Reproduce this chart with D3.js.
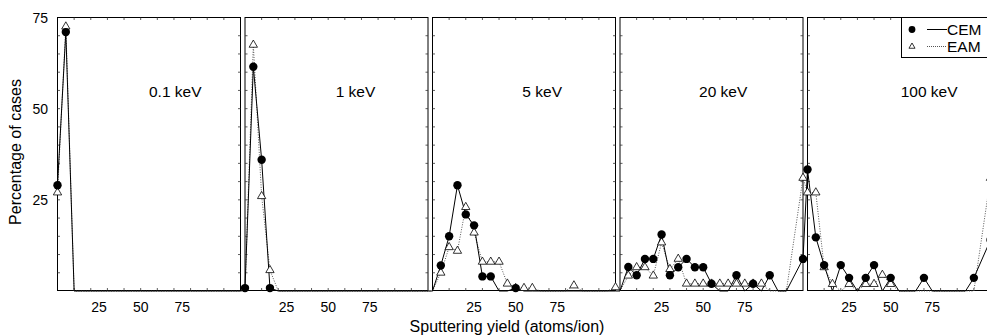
<!DOCTYPE html>
<html lang="en">
<head>
<meta charset="UTF-8" />
<title>Sputtering yield distributions</title>
<script src="https://cdnjs.cloudflare.com/ajax/libs/d3/7.8.5/d3.min.js"></script>
<style>
    body { margin: 0; background: #fff; }
    svg { display: block; font-family: "Liberation Sans", Arial, Helvetica, sans-serif; }
</style>
</head>
<body>
<svg id="chart" width="987" height="336"></svg>
<script>
    // one panel per ion energy, bins every 5 atoms/ion (null = no point)
    const energies = ["0.1 keV", "1 keV", "5 keV", "20 keV", "100 keV"];
    const yieldBins = [0, 5, 10, 15, 20, 25, 30, 35, 40, 45, 50, 55, 60, 65, 70, 75, 80, 85, 90, 95, 100, 105, 110];

    const cem01 = [29, 71, 0, 0, 0, 0, 0, 0, 0, 0, 0, 0, 0, 0, 0, 0, 0, 0, 0, 0, 0, 0, 0];
    const eam01 = [27, 72.5, 0, 0, 0, 0, 0, 0, 0, 0, 0, 0, 0, 0, 0, 0, 0, 0, 0, 0, 0, 0, 0];
    const cem1 = [0.8, 61.5, 36, 0.8, 0, 0, 0, 0, 0, 0, 0, 0, 0, 0, 0, 0, 0, 0, 0, 0, 0, 0, 0];
    const eam1 = [0, 67.5, 26, 5.7, 0, 0, 0, 0, 0, 0, 0, 0, 0, 0, 0, 0, 0, 0, 0, 0, 0, 0, 0];
    const cem5 = [0, 7, 15, 29, 21, 18, 4, 4, 0, 0, 0.8, 0, 0, 0, 0, 0, 0, 0, 0, 0, 0, 0, 0];
    const eam5 = [0, 5, 12, 11, 23, 16, 8, 8, 8, 2, 0.8, 0.8, 0.8, 0, 0, 0, 0, 1.5, 0, 0, 0, 0, 1];
    const cem20 = [0, 6.6, 4.3, 8.8, 8.8, 15.5, 4.3, 6.5, 8.8, 6.5, 6.5, 2, 0, 0, 4.3, 0, 2, 0, 4.3, 0, 0, null, 8.8];
    const eam20 = [0, 4.2, 6.5, 6.5, 4.2, 13.3, 6, 8.8, 2, 2, 2, 2, 2, 2, 2, 2, 2, 2, 0, 0, 0, null, 31];
    const cem100 = [33.3, 14.7, 7.1, 0, 7.1, 3.6, 0, 3.6, 7.1, 0, 3.6, 0, 0, 0, 3.6, 0, 0, 0, 0, 0, 3.6, null, 14];
    const eam100 = [27, 27, 6.5, 1.9, 0, 1.9, 0, 1.9, 1.9, 4.4, 1.9, 0, 0, 0, 0, 0, 0, 0, 0, 0, 0, null, 31];

    const cemSeries = [cem01, cem1, cem5, cem20, cem100];
    const eamSeries = [eam01, eam1, eam5, eam20, eam100];

    const yTicks = [25, 50, 75];
    const xTicks = [25, 50, 75];
    const labelAt = [55, 54.5, 54, 47.5, 56]; // where each energy label starts (yield units)

    const svg = d3.select("#chart");
    const panelW = 183, panelStep = 187.5, firstLeft = 57.5;
    const plotTop = 17.5, plotBottom = 290.5;

    const y = d3.scaleLinear().domain([0, 75]).range([291, plotTop]);
    const xs = energies.map((e, i) => d3.scaleLinear()
        .domain([0, 110])
        .range([firstLeft + i * panelStep, firstLeft + i * panelStep + panelW]));

    // panel frames + inner ticks
    energies.forEach((e, i) => {
        const x = xs[i];
        const g = svg.append("g");
        g.append("rect")
            .attr("x", x(0)).attr("y", plotTop)
            .attr("width", panelW).attr("height", plotBottom - plotTop)
            .attr("fill", "none").attr("stroke", "#000").attr("stroke-width", 1);

        const yMinor = d3.range(5, 75, 5);
        g.selectAll("line.yl").data(yMinor).join("line")
            .attr("class", "yl")
            .attr("x1", x(0)).attr("x2", x(0) + 2.5)
            .attr("y1", d => y(d)).attr("y2", d => y(d))
            .attr("stroke", "#333").attr("stroke-width", 0.8);
        g.selectAll("line.yr").data(yMinor).join("line")
            .attr("class", "yr")
            .attr("x1", x(110)).attr("x2", x(110) - 2.5)
            .attr("y1", d => y(d)).attr("y2", d => y(d))
            .attr("stroke", "#333").attr("stroke-width", 0.8);

        const xMinor = d3.range(10, 110, 10);
        g.selectAll("line.xt").data(xMinor).join("line")
            .attr("class", "xt")
            .attr("x1", d => x(d)).attr("x2", d => x(d))
            .attr("y1", plotTop).attr("y2", plotTop + 2.5)
            .attr("stroke", "#333").attr("stroke-width", 0.8);
        g.selectAll("line.xb").data(xMinor).join("line")
            .attr("class", "xb")
            .attr("x1", d => x(d)).attr("x2", d => x(d))
            .attr("y1", plotBottom).attr("y2", plotBottom - 2.5)
            .attr("stroke", "#333").attr("stroke-width", 0.8);

        g.selectAll("text.xl").data(xTicks).join("text")
            .attr("class", "xl")
            .attr("x", d => x(d)).attr("y", 311.5)
            .attr("text-anchor", "middle")
            .attr("font-size", "14px")
            .attr("fill", "#000")
            .text(d => d);

        g.append("text")
            .attr("x", x(labelAt[i])).attr("y", 97)
            .attr("font-size", "15.5px")
            .attr("fill", "#000")
            .text(e);
    });

    // y tick labels only on the first panel
    svg.selectAll("text.yl").data(yTicks).join("text")
        .attr("class", "yl")
        .attr("x", 48).attr("y", d => y(d))
        .attr("dy", "0.36em")
        .attr("text-anchor", "end")
        .attr("font-size", "14px")
        .text(d => d);

    // the lines run on across the panels
    const toPoints = series => series.flatMap((vals, i) =>
        yieldBins.map((b, j) => ({ px: xs[i](b), v: vals[j] })).filter(d => d.v !== null));

    const cemPts = toPoints(cemSeries);
    const eamPts = toPoints(eamSeries);

    const line = d3.line().x(d => d.px).y(d => y(d.v));

    svg.append("path").datum(eamPts)
        .attr("d", line)
        .attr("fill", "none")
        .attr("stroke", "#555")
        .attr("stroke-width", 1)
        .attr("stroke-dasharray", "1,1.5");

    svg.append("path").datum(cemPts)
        .attr("d", line)
        .attr("fill", "none")
        .attr("stroke", "#000")
        .attr("stroke-width", 1);

    const tri = d3.symbol().type(d3.symbolTriangle).size(30);

    svg.append("g").selectAll("path")
        .data(eamPts.filter(d => d.v > 0))
        .join("path")
        .attr("d", tri)
        .attr("transform", d => `translate(${d.px},${y(d.v)})`)
        .attr("fill", "#fff")
        .attr("stroke", "#000")
        .attr("stroke-width", 0.8);

    svg.append("g").selectAll("circle")
        .data(cemPts.filter(d => d.v > 0))
        .join("circle")
        .attr("cx", d => d.px)
        .attr("cy", d => y(d.v))
        .attr("r", 4.2)
        .attr("fill", "#000");

    // legend
    const lg = svg.append("g");
    lg.append("rect")
        .attr("x", 901.5).attr("y", plotTop)
        .attr("width", 100).attr("height", 40)
        .attr("fill", "#fff").attr("stroke", "#000");
    lg.append("circle").attr("cx", 912).attr("cy", 29.5).attr("r", 3.4).attr("fill", "#000");
    lg.append("line").attr("x1", 927).attr("x2", 947).attr("y1", 29.5).attr("y2", 29.5)
        .attr("stroke", "#000");
    lg.append("text").attr("x", 947).attr("y", 35).attr("font-size", "15.5px").text("CEM");
    lg.append("path").attr("d", d3.symbol().type(d3.symbolTriangle).size(16))
        .attr("transform", "translate(912,46.5)")
        .attr("fill", "#fff").attr("stroke", "#000").attr("stroke-width", 0.8);
    lg.append("line").attr("x1", 927).attr("x2", 947).attr("y1", 46.5).attr("y2", 46.5)
        .attr("stroke", "#555").attr("stroke-dasharray", "1,1");
    lg.append("text").attr("x", 947).attr("y", 52).attr("font-size", "15.5px").text("EAM");

    // axis titles
    svg.append("text")
        .attr("transform", "translate(21,152) rotate(-90)")
        .attr("text-anchor", "middle")
        .attr("font-size", "16px")
        .text("Percentage of cases");

    svg.append("text")
        .attr("x", 507).attr("y", 331.5)
        .attr("text-anchor", "middle")
        .attr("font-size", "16px")
        .text("Sputtering yield (atoms/ion)");
</script>
</body>
</html>
